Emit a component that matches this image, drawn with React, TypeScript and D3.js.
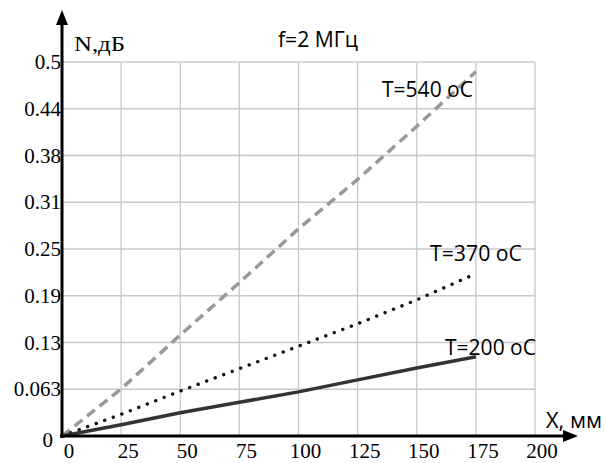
import { useEffect, useRef } from "react";
import * as d3 from "d3";

const xValues = [0, 25, 50, 75, 100, 125, 150, 175];
const t540 = [0, 0.063, 0.135, 0.205, 0.277, 0.343, 0.414, 0.487];
const t370 = [0, 0.029, 0.06, 0.09, 0.12, 0.15, 0.182, 0.217];
const t200 = [0, 0.015, 0.031, 0.045, 0.059, 0.075, 0.091, 0.106];
const xTicks = [0, 25, 50, 75, 100, 125, 150, 175, 200];
const yTicks = [0, 0.0625, 0.125, 0.1875, 0.25, 0.3125, 0.375, 0.4375, 0.5];
const yTickLabels = ["0", "0.063", "0.13", "0.19", "0.25", "0.31", "0.38", "0.44", "0.5"];

export default function App() {
  const svgRef = useRef<SVGSVGElement | null>(null);

  useEffect(() => {
    if (!svgRef.current) return;
    const svg = d3.select(svgRef.current);
    svg.selectAll("*").remove();

    const x = d3.scaleLinear().domain([0, 200]).range([62, 535]);
    const y = d3.scaleLinear().domain([0, 0.5]).range([436, 62]);

    // grid
    const grid = svg.append("g").attr("stroke", "#c8c8c8").attr("stroke-width", 1.3);
    grid
      .selectAll("line.v")
      .data(xTicks.slice(1))
      .enter()
      .append("line")
      .attr("x1", (d) => x(d))
      .attr("x2", (d) => x(d))
      .attr("y1", y(0))
      .attr("y2", y(0.5));
    grid
      .selectAll("line.h")
      .data(yTicks.slice(1))
      .enter()
      .append("line")
      .attr("x1", x(0))
      .attr("x2", x(200))
      .attr("y1", (d) => y(d))
      .attr("y2", (d) => y(d));

    const line = d3
      .line<number>()
      .x((_, i) => x(xValues[i]))
      .y((d) => y(d));

    svg
      .append("path")
      .attr("d", line(t540))
      .attr("fill", "none")
      .attr("stroke", "#999")
      .attr("stroke-width", 3.5)
      .attr("stroke-dasharray", "10,6");

    svg
      .append("path")
      .attr("d", line(t370))
      .attr("fill", "none")
      .attr("stroke", "#111")
      .attr("stroke-width", 3.4)
      .attr("stroke-linecap", "round")
      .attr("stroke-dasharray", "0.1,9");

    svg
      .append("path")
      .attr("d", line(t200))
      .attr("fill", "none")
      .attr("stroke", "#333")
      .attr("stroke-width", 3.5);

    // axes
    svg
      .append("line")
      .attr("x1", x(0))
      .attr("x2", x(0))
      .attr("y1", y(0) + 2)
      .attr("y2", 22)
      .attr("stroke", "#000")
      .attr("stroke-width", 3);
    svg
      .append("path")
      .attr("d", `M${x(0)},10 L${x(0) - 6},25 L${x(0) + 6},25 Z`)
      .attr("fill", "#000");
    svg
      .append("line")
      .attr("x1", x(0) - 2)
      .attr("x2", 566)
      .attr("y1", y(0))
      .attr("y2", y(0))
      .attr("stroke", "#000")
      .attr("stroke-width", 3);
    svg
      .append("path")
      .attr("d", `M578,${y(0)} L563,${y(0) - 6} L563,${y(0) + 6} Z`)
      .attr("fill", "#000");

    const serif = "Liberation Serif, DejaVu Serif, serif";
    const sans = "Open Sans, Noto Sans, sans-serif";

    svg
      .append("g")
      .selectAll("text")
      .data(xTicks)
      .enter()
      .append("text")
      .attr("x", (d) => x(d) + 7)
      .attr("y", 458)
      .attr("text-anchor", "middle")
      .style("font-family", serif)
      .style("font-size", "21px")
      .text((d) => String(d));

    svg
      .append("g")
      .selectAll("text")
      .data(yTicks)
      .enter()
      .append("text")
      .attr("x", (d) => (d === 0 ? 53 : 61))
      .attr("y", (d) => (d === 0 ? y(d) + 11 : y(d) + 7))
      .attr("text-anchor", "end")
      .style("font-family", serif)
      .style("font-size", "21px")
      .text((_, i) => yTickLabels[i]);

    svg
      .append("text")
      .attr("x", 74)
      .attr("y", 51)
      .style("font-family", serif)
      .style("font-size", "21px")
      .attr("textLength", 51)
      .attr("lengthAdjust", "spacingAndGlyphs")
      .text("N,дБ");

    const labels = [
      { text: "f=2 МГц", x: 278, y: 47, w: 80 },
      { text: "T=540 оС", x: 382, y: 97, w: 91 },
      { text: "T=370 оС", x: 430, y: 261, w: 92 },
      { text: "T=200 оС", x: 445, y: 355, w: 91 },
      { text: "X, мм", x: 546, y: 428, w: 56 },
    ];
    svg
      .append("g")
      .selectAll("text")
      .data(labels)
      .enter()
      .append("text")
      .attr("x", (d) => d.x)
      .attr("y", (d) => d.y)
      .style("font-family", sans)
      .style("font-size", "21px")
      .attr("textLength", (d) => d.w)
      .attr("lengthAdjust", "spacingAndGlyphs")
      .text((d) => d.text);
  }, []);

  return (
    <svg
      ref={svgRef}
      width={605}
      height={463}
      style={{ position: "absolute", left: 0, top: 0, background: "#fff" }}
    />
  );
}
